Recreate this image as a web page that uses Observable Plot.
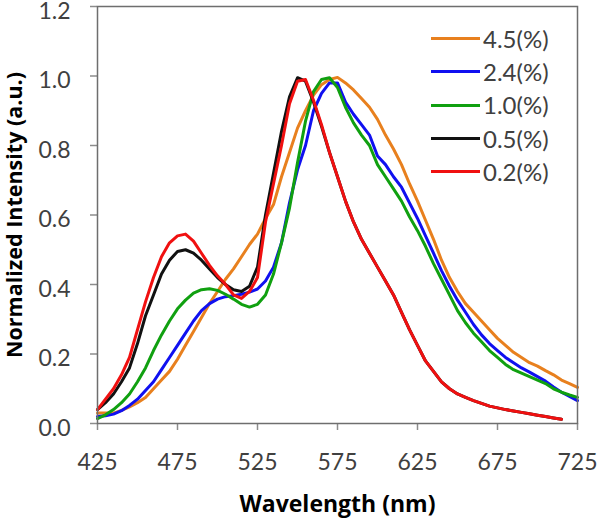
<!DOCTYPE html>
<html>
<head>
<meta charset="utf-8">
<script src="https://cdn.jsdelivr.net/npm/d3@7"></script>
<script src="https://cdn.jsdelivr.net/npm/@observablehq/plot@0.6"></script>
<style>
  html, body { margin: 0; padding: 0; background: #fff; }
  #wrap { position: relative; width: 600px; height: 519px; font-family: Lato, "Open Sans", sans-serif; }
  #legend { position: absolute; left: 431px; top: 22px; }
  .row { display: flex; align-items: center; height: 33.3px; }
  .sw { width: 49px; height: 3px; margin-right: 3px; }
  .lab { font-size: 24px; color: #404040; line-height: 1; }
</style>
</head>
<body>
<div id="wrap"></div>
<script>
const wavelengths = [425,430,435,440,445,450,455,460,465,470,475,480,485,490,495,500,505,510,515,520,525,530,535,540,545,550,555,560,565,570,575,580,585,590,595,600,605,610,615,620,625,630,635,640,645,650,655,660,665,670,675,680,685,690,695,700,705,710,715,720,725];

const seriesNames = ["4.5(%)", "2.4(%)", "1.0(%)", "0.5(%)", "0.2(%)"];
const seriesColors = ["#E8801E", "#1010F0", "#10A010", "#111111", "#F01010"];

const orange = [0.03,0.03,0.03,0.038,0.048,0.06,0.075,0.10,0.125,0.15,0.185,0.225,0.265,0.305,0.345,0.38,0.415,0.445,0.48,0.515,0.545,0.59,0.63,0.71,0.78,0.85,0.90,0.945,0.975,0.99,0.996,0.98,0.96,0.935,0.91,0.875,0.83,0.79,0.745,0.69,0.64,0.585,0.53,0.47,0.42,0.38,0.345,0.32,0.295,0.27,0.245,0.225,0.205,0.19,0.175,0.165,0.152,0.14,0.125,0.115,0.104];
const blue = [0.02,0.022,0.027,0.037,0.052,0.07,0.095,0.12,0.155,0.19,0.225,0.26,0.295,0.325,0.345,0.358,0.365,0.368,0.372,0.378,0.387,0.41,0.45,0.52,0.635,0.73,0.80,0.90,0.95,0.98,0.98,0.925,0.89,0.86,0.83,0.77,0.745,0.71,0.68,0.635,0.59,0.54,0.49,0.44,0.395,0.355,0.32,0.285,0.255,0.23,0.21,0.19,0.175,0.16,0.148,0.135,0.122,0.105,0.09,0.078,0.066];
const green = [0.014,0.025,0.04,0.06,0.085,0.12,0.16,0.21,0.255,0.295,0.33,0.355,0.375,0.385,0.388,0.383,0.372,0.358,0.343,0.335,0.343,0.37,0.43,0.52,0.62,0.75,0.87,0.955,0.99,0.995,0.967,0.91,0.865,0.83,0.80,0.745,0.71,0.675,0.64,0.595,0.555,0.51,0.46,0.415,0.37,0.325,0.29,0.26,0.235,0.21,0.19,0.17,0.155,0.145,0.135,0.125,0.115,0.10,0.09,0.082,0.075];
const black = [0.04,0.06,0.085,0.12,0.16,0.23,0.31,0.37,0.43,0.47,0.495,0.50,0.49,0.47,0.445,0.42,0.40,0.385,0.38,0.395,0.45,0.60,0.72,0.84,0.94,0.995,0.985,0.925,0.855,0.78,0.71,0.64,0.58,0.53,0.49,0.45,0.41,0.37,0.32,0.27,0.225,0.18,0.15,0.12,0.10,0.085,0.075,0.066,0.058,0.05,0.045,0.04,0.036,0.032,0.028,0.024,0.02,0.016,0.012,null,null];
const red = [0.04,0.07,0.10,0.14,0.19,0.27,0.35,0.42,0.48,0.52,0.54,0.545,0.525,0.49,0.455,0.425,0.40,0.37,0.36,0.38,0.42,0.58,0.69,0.80,0.92,0.985,0.99,0.93,0.86,0.78,0.71,0.64,0.58,0.53,0.49,0.45,0.41,0.37,0.32,0.27,0.225,0.18,0.15,0.12,0.10,0.085,0.075,0.066,0.058,0.05,0.045,0.04,0.036,0.032,0.028,0.024,0.02,0.016,0.012,null,null];

const xTicks = [425,475,525,575,625,675,725];
const yTicks = [0,0.2,0.4,0.6,0.8,1.0,1.2];

const seriesValues = [orange, blue, green, black, red];
const rows = [];
seriesNames.forEach((name, i) => {
  wavelengths.forEach((w, j) => {
    const v = seriesValues[i][j];
    if (v != null) rows.push({series: name, wl: w, v});
  });
});

const chart = Plot.plot({
  width: 600,
  height: 519,
  marginLeft: 97,
  marginRight: 23,
  marginTop: 6,
  marginBottom: 96,
  style: {fontFamily: "Lato, 'Open Sans', sans-serif", fontSize: "23px", color: "#404040", background: "#fff", overflow: "visible"},
  x: {domain: [425, 725], ticks: xTicks},
  y: {domain: [0, 1.2], ticks: yTicks},
  color: {domain: seriesNames, range: seriesColors},
  marks: [
    Plot.axisX({ticks: xTicks, tickSize: 7, tickPadding: 23, stroke: "#8c8c8c", strokeWidth: 1.5, fill: "#404040",
      label: "Wavelength (nm)", labelAnchor: "center", labelArrow: "none", labelOffset: 88}),
    Plot.axisY({ticks: yTicks, tickSize: 7, stroke: "#8c8c8c", strokeWidth: 1.5, text: null, label: null}),
    Plot.axisY({ticks: yTicks, tickSize: 0, tickPadding: 27, dy: 5, tickFormat: d => d.toFixed(1), fill: "#404040",
      label: "Normalized Intensity (a.u.)", labelAnchor: "center", labelArrow: "none", labelOffset: 91}),
    Plot.line(rows, {x: "wl", y: "v", z: "series", stroke: "series", strokeWidth: 3, curve: "linear"}),
    Plot.frame({stroke: "#6e6e6e", strokeWidth: 1.5})
  ]
});

d3.select(chart).selectAll("g[aria-label='x-axis label'] text")
  .attr("font-weight", "bold").attr("fill", "#000").attr("font-size", "23px").attr("font-family", "'Open Sans', sans-serif");
d3.select(chart).selectAll("g[aria-label='y-axis label'] text")
  .attr("font-weight", "bold").attr("fill", "#000").attr("font-size", "21.5px").attr("font-family", "'Open Sans', sans-serif");

const wrap = document.getElementById("wrap");
wrap.appendChild(chart);

const legend = d3.select(wrap).append("div").attr("id", "legend");
seriesNames.forEach((n, i) => {
  const r = legend.append("div").attr("class", "row");
  r.append("div").attr("class", "sw").style("background", seriesColors[i]);
  r.append("div").attr("class", "lab").text(n);
});
</script>
</body>
</html>
